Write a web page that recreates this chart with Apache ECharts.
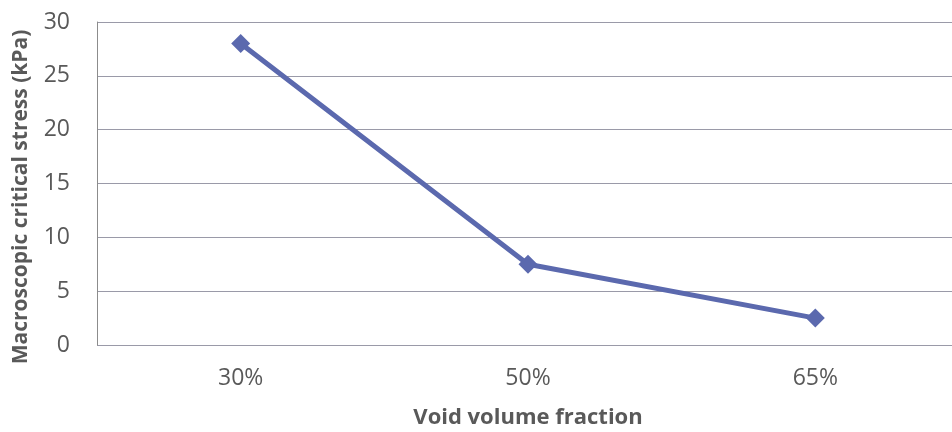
<!DOCTYPE html>
<html>
<head>
<meta charset="utf-8">
<script src="https://cdn.jsdelivr.net/npm/echarts@6/dist/echarts.min.js"></script>
<style>html,body{margin:0;padding:0;background:#fff;}#c{width:952px;height:432px;}</style>
</head>
<body>
<div id="c"></div>
<script>
const categories = ['30%', '50%', '65%'];
const stressValues = [28, 7.5, 2.5];
const yTicks = [0, 5, 10, 15, 20, 25, 30];
const xTitle = 'Void volume fraction';
const yTitle = 'Macroscopic critical stress (kPa)';

const chart = echarts.init(document.getElementById('c'), null, {renderer: 'canvas'});
const textColor = '#595959';
const font = '"Open Sans", "Liberation Sans", sans-serif';
chart.setOption({
  animation: false,
  backgroundColor: '#ffffff',
  grid: {left: 97, top: 22, width: 862, height: 323, containLabel: false, outerBoundsMode: 'none'},
  xAxis: {
    type: 'category',
    data: categories,
    boundaryGap: true,
    axisLine: {show: false},
    axisTick: {show: false},
    axisLabel: {color: textColor, fontSize: 23, fontFamily: font, margin: 22},
    name: xTitle,
    nameLocation: 'middle',
    nameGap: 62,
    nameTextStyle: {color: textColor, fontSize: 22, fontWeight: 'bold', fontFamily: font}
  },
  yAxis: {
    type: 'value',
    min: yTicks[0],
    max: yTicks[yTicks.length - 1],
    interval: 5,
    axisLine: {show: true, lineStyle: {color: '#8c8c8c', width: 1}},
    axisTick: {show: false},
    axisLabel: {color: textColor, fontSize: 23, fontFamily: font, margin: 27},
    splitLine: {show: true, lineStyle: {color: '#9a9aa8', width: 1.2}}
  },
  graphic: [{
    type: 'text',
    x: 21,
    y: 197,
    rotation: Math.PI / 2,
    style: {
      text: yTitle,
      fill: textColor,
      font: 'bold 21px ' + font,
      align: 'center',
      verticalAlign: 'middle'
    }
  }],
  series: [{
    type: 'line',
    data: stressValues,
    symbol: 'diamond',
    symbolSize: 19,
    lineStyle: {color: '#5b69ae', width: 5},
    itemStyle: {color: '#5b69ae'}
  }]
});
</script>
</body>
</html>
